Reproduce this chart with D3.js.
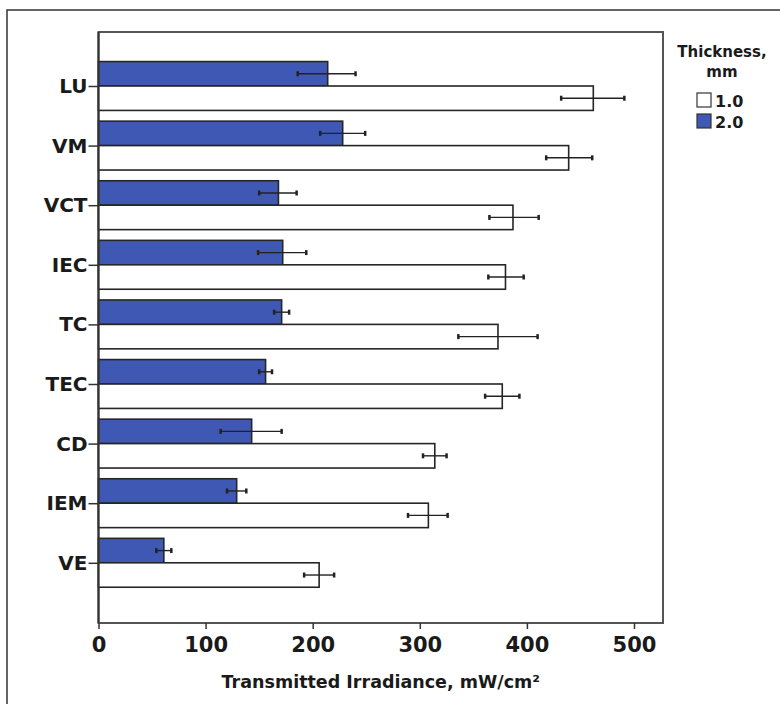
<!DOCTYPE html>
<html>
<head>
<meta charset="utf-8">
<script src="https://cdn.jsdelivr.net/npm/d3@7"></script>
<style>
    body { margin: 0; background: #fff; }
    text { font-family: "DejaVu Sans", sans-serif; fill: #1a1a1a; }
</style>
</head>
<body>
<div id="chart-area"></div>
<script>

// Categories (top to bottom)
const categories = ["LU", "VM", "VCT", "IEC", "TC", "TEC", "CD", "IEM", "VE"];

// Thickness groups, 2.0 mm drawn above 1.0 mm in each category
const groups = ["2.0", "1.0"];

// 1.0 mm: mean and error bar ends
const mean10 = [462, 439, 387, 380, 373, 377, 314, 308, 206];
const low10  = [432, 418, 365, 364, 336, 361, 303, 289, 192];
const high10 = [491, 461, 411, 397, 410, 393, 325, 326, 220];

// 2.0 mm: mean and error bar ends
const mean20 = [214, 228, 168, 172, 171, 156, 143, 129, 61];
const low20  = [186, 207, 150, 149, 164, 150, 114, 120, 54];
const high20 = [240, 249, 185, 194, 178, 162, 171, 138, 68];

const xTicks = [0, 100, 200, 300, 400, 500];

const colors = { "1.0": "#ffffff", "2.0": "#3e58b4" };


// flatten into rows for drawing
let rows = [];
categories.forEach((c, i) => {
    rows.push({ cat: c, group: "2.0", value: mean20[i], low: low20[i], high: high20[i] });
    rows.push({ cat: c, group: "1.0", value: mean10[i], low: low10[i], high: high10[i] });
});


let width = 780, height = 704;
let plot = { left: 98.5, right: 663, top: 32, bottom: 623 };

let svg = d3.select("#chart-area").append("svg")
    .attr("width", width)
    .attr("height", height);

// outer frame (left and top only are visible)
svg.append("path")
    .attr("d", "M7,704 L7,10 L780,10")
    .attr("fill", "none")
    .attr("stroke", "#333")
    .attr("stroke-width", 1.5);

// Scales
let x = d3.scaleLinear()
    .domain([0, 500])
    .range([plot.left, plot.left + 535.5]);

let y0 = d3.scaleBand()
    .domain(categories)
    .range([56.2, 56.2 + 59.6 * 9])
    .paddingInner(0.18)
    .paddingOuter(0.09);

let y1 = d3.scaleBand()
    .domain(groups)
    .range([0, y0.bandwidth()]);

// plot frame
svg.append("rect")
    .attr("x", plot.left)
    .attr("y", plot.top)
    .attr("width", plot.right - plot.left)
    .attr("height", plot.bottom - plot.top)
    .attr("fill", "#fff")
    .attr("stroke", "#555")
    .attr("stroke-width", 2);

// Bars
svg.selectAll(".bar")
    .data(rows)
    .enter()
    .append("rect")
    .attr("class", "bar")
    .attr("x", x(0))
    .attr("y", d => y0(d.cat) + y1(d.group))
    .attr("width", d => x(d.value) - x(0))
    .attr("height", y1.bandwidth())
    .attr("fill", d => colors[d.group])
    .attr("stroke", "#262626")
    .attr("stroke-width", 1.6);

// Error bars
let err = svg.selectAll(".err")
    .data(rows)
    .enter()
    .append("g")
    .attr("class", "err")
    .attr("transform", d => "translate(0," + (y0(d.cat) + y1(d.group) + y1.bandwidth() / 2) + ")");

err.append("line")
    .attr("x1", d => x(d.low))
    .attr("x2", d => x(d.high))
    .attr("stroke", "#222")
    .attr("stroke-width", 1.4);

err.selectAll(".cap")
    .data(d => [d.low, d.high])
    .enter()
    .append("line")
    .attr("class", "cap")
    .attr("x1", v => x(v))
    .attr("x2", v => x(v))
    .attr("y1", -2.5)
    .attr("y2", 2.5)
    .attr("stroke", "#222")
    .attr("stroke-width", 2.5);

// Axes
let yAxis = svg.append("g")
    .attr("transform", "translate(" + plot.left + ",0)")
    .call(d3.axisLeft(d3.scalePoint().domain(categories)
            .range([y0(categories[0]) + y0.bandwidth() / 2, y0(categories[categories.length - 1]) + y0.bandwidth() / 2]))
        .tickSize(10).tickPadding(1));

yAxis.select(".domain")
    .attr("d", "M0," + plot.top + "V" + plot.bottom)
    .attr("stroke", "#333")
    .attr("stroke-width", 2);
yAxis.selectAll(".tick line").attr("stroke", "#333").attr("stroke-width", 1.5);
yAxis.selectAll(".tick text")
    .style("font-family", "DejaVu Sans")
    .style("font-size", "20px")
    .style("font-weight", "bold")
    .attr("fill", "#1a1a1a");

let xAxis = svg.append("g")
    .attr("transform", "translate(0," + plot.bottom + ")")
    .call(d3.axisBottom(x).tickValues(xTicks).tickSize(6).tickPadding(8));

xAxis.select(".domain").remove();
xAxis.selectAll(".tick line").attr("stroke", "#333").attr("stroke-width", 1.5);
xAxis.selectAll(".tick text")
    .style("font-family", "DejaVu Sans")
    .style("font-size", "21px")
    .style("font-weight", "bold")
    .attr("fill", "#1a1a1a");

// Axis title
svg.append("text")
    .attr("x", (plot.left + plot.right) / 2)
    .attr("y", 688)
    .attr("text-anchor", "middle")
    .style("font-size", "17.5px")
    .style("font-weight", "bold")
    .text("Transmitted Irradiance, mW/cm²");

// Legend
let legend = svg.append("g").attr("class", "legend");

legend.append("text")
    .attr("x", 722)
    .attr("y", 57)
    .attr("text-anchor", "middle")
    .style("font-size", "15px")
    .style("font-weight", "bold")
    .text("Thickness,");

legend.append("text")
    .attr("x", 722)
    .attr("y", 77)
    .attr("text-anchor", "middle")
    .style("font-size", "15px")
    .style("font-weight", "bold")
    .text("mm");

let legendKeys = ["1.0", "2.0"];

legendKeys.forEach((k, i) => {
    legend.append("rect")
        .attr("x", 697)
        .attr("y", 93 + i * 21)
        .attr("width", 14)
        .attr("height", 14)
        .attr("fill", colors[k])
        .attr("stroke", "#333")
        .attr("stroke-width", 1.2);

    legend.append("text")
        .attr("x", 715)
        .attr("y", 107 + i * 21)
        .style("font-size", "16px")
        .style("font-weight", "bold")
        .text(k);
});

</script>
</body>
</html>
